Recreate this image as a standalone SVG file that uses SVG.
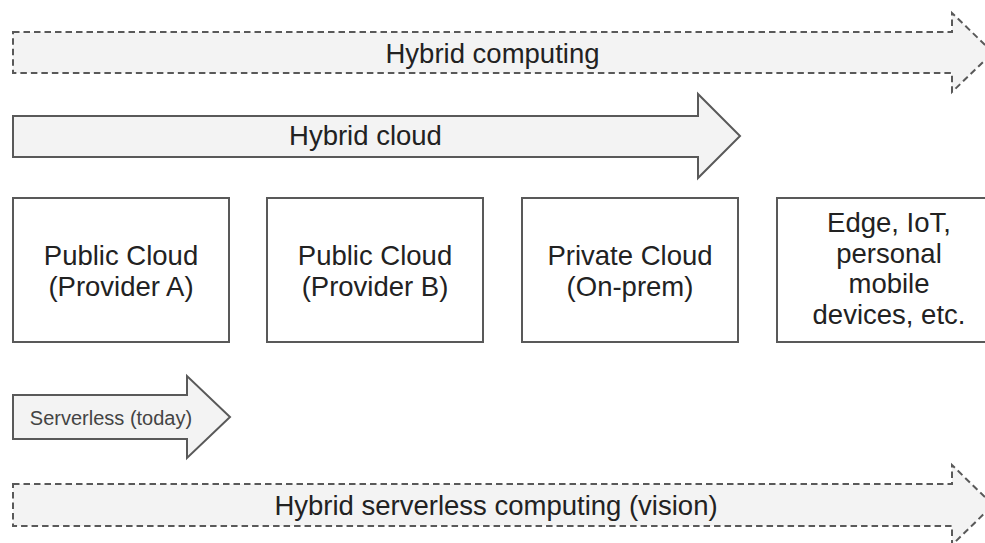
<svg xmlns="http://www.w3.org/2000/svg" width="985" height="543" viewBox="0 0 985 543">
<style>
.arrow{fill:#f3f3f3;stroke:#595959;stroke-width:2;stroke-linejoin:miter}
.dashed{stroke-dasharray:6.5 4}
.box{fill:#ffffff;stroke:#595959;stroke-width:2}
.t{font-family:"Liberation Sans",Arial,sans-serif;font-size:27.5px;fill:#222;text-anchor:middle}
.s{font-family:"Liberation Sans",Arial,sans-serif;font-size:20px;fill:#444;text-anchor:middle}
</style>
<rect width="985" height="543" fill="#ffffff"/>
<g id="connectors">
  <g id="hybrid-computing">
    <path class="arrow dashed" d="M13,32 H952 V13 L993,52.5 L952,92 V73 H13 Z"/>
    <text class="t" x="492.5" y="62.5">Hybrid computing</text>
  </g>
  <g id="hybrid-cloud">
    <path class="arrow" d="M13,116 H698 V94 L740,136 L698,178 V157 H13 Z"/>
    <text class="t" x="365.5" y="145">Hybrid cloud</text>
  </g>
  <g id="serverless-today">
    <path class="arrow" d="M13,395 H187 V376 L230,417 L187,458 V439 H13 Z"/>
    <text class="s" x="111" y="424.5">Serverless (today)</text>
  </g>
  <g id="hybrid-serverless">
    <path class="arrow dashed" d="M13,484 H952 V465 L993,505 L952,545 V526 H13 Z"/>
    <text class="t" x="496" y="515">Hybrid serverless computing (vision)</text>
  </g>
</g>
<g id="public-cloud-a">
  <rect class="box" x="13" y="198" width="216" height="144"/>
  <text class="t" x="121" y="265">Public Cloud</text>
  <text class="t" x="121" y="295.5">(Provider A)</text>
</g>
<g id="public-cloud-b">
  <rect class="box" x="267" y="198" width="216" height="144"/>
  <text class="t" x="375" y="265">Public Cloud</text>
  <text class="t" x="375" y="295.5">(Provider B)</text>
</g>
<g id="private-cloud">
  <rect class="box" x="522" y="198" width="216" height="144"/>
  <text class="t" x="630" y="265">Private Cloud</text>
  <text class="t" x="630" y="295.5">(On-prem)</text>
</g>
<g id="edge-devices">
  <rect class="box" x="777" y="198" width="216" height="144"/>
  <text class="t" x="889" y="232">Edge, IoT,</text>
  <text class="t" x="889" y="262.5">personal</text>
  <text class="t" x="889" y="293">mobile</text>
  <text class="t" x="889" y="323.5">devices, etc.</text>
</g>
</svg>
